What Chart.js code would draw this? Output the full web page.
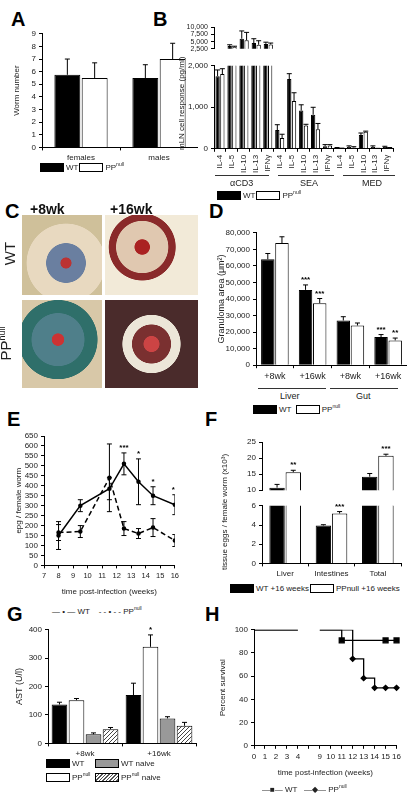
<!DOCTYPE html>
<html><head><meta charset="utf-8">
<script src="https://cdn.jsdelivr.net/npm/chart.js@4.4.0/dist/chart.umd.min.js"></script>
<style>
body{margin:0;width:414px;height:800px;background:#fff;font-family:"Liberation Sans",Arial,sans-serif;position:relative;overflow:hidden}
.p{position:absolute}
.lbl{position:absolute;font-weight:bold;font-size:20px}
.t{position:absolute;font-size:8px;color:#222;white-space:nowrap}
.box{display:inline-block;width:22px;height:7px;border:1px solid #000;vertical-align:middle;margin-right:2px}
.k{background:#000}.w{background:#fff}.g{background:#999}
.h{background:repeating-linear-gradient(135deg,#fff 0 1.5px,#555 1.5px 2.5px)}
.line{position:absolute;border-top:1px solid #333}
.rot{position:absolute;font-size:8px;color:#222;white-space:nowrap;transform-origin:left top;transform:rotate(-90deg)}
sup{font-size:5px}
</style></head><body>
<div class="lbl" style="left:11px;top:8px">A</div>
<div class="lbl" style="left:153px;top:8px">B</div>
<div class="lbl" style="left:5px;top:200px">C</div>
<div class="lbl" style="left:209px;top:200px">D</div>
<div class="lbl" style="left:7px;top:408px">E</div>
<div class="lbl" style="left:205px;top:408px">F</div>
<div class="lbl" style="left:7px;top:603px">G</div>
<div class="lbl" style="left:205px;top:603px">H</div>

<canvas id="cA" class="p" style="left:8px;top:26px"></canvas>
<div class="t" style="left:40px;top:161px"><span class="box k"></span>WT<span class="box w" style="margin-left:1px"></span>PP<sup>null</sup></div>

<canvas id="cB1" class="p" style="left:180px;top:20px"></canvas>
<canvas id="cB2" class="p" style="left:180px;top:58px"></canvas>
<div class="rot" style="left:177px;top:150px">mLN cell response (pg/ml)</div>
<div class="line" style="left:215px;top:175px;width:54px"></div>
<div class="line" style="left:278px;top:175px;width:56px"></div>
<div class="line" style="left:343px;top:175px;width:52px"></div>
<div class="t" style="left:230px;top:178px;font-size:9px">αCD3</div>
<div class="t" style="left:300px;top:178px;font-size:9px">SEA</div>
<div class="t" style="left:362px;top:178px;font-size:9px">MED</div>
<div class="t" style="left:217px;top:189px"><span class="box k"></span>WT<span class="box w" style="margin-left:1px"></span>PP<sup>null</sup></div>

<div class="p" style="left:22px;top:215px;width:80px;height:80px;background:radial-gradient(circle at 55% 60%,#b33 0 8%,#6a7fa0 9% 30%,#e8d9c0 31% 60%,#cfc09a 61%)"></div>
<div class="p" style="left:105px;top:215px;width:93px;height:80px;background:radial-gradient(circle at 40% 40%,#a22 0 10%,#e0c8b0 11% 35%,#8a2a2a 36% 45%,#f2ead8 46%)"></div>
<div class="p" style="left:22px;top:300px;width:80px;height:88px;background:radial-gradient(circle at 45% 45%,#c33 0 9%,#4f7f8a 10% 40%,#2f6f6a 41% 60%,#d8c8a8 61%)"></div>
<div class="p" style="left:105px;top:300px;width:93px;height:88px;background:radial-gradient(circle at 50% 50%,#c44 0 12%,#7a3030 13% 30%,#ece6d8 31% 45%,#4a2b2b 46%)"></div>
<div class="t" style="left:30px;top:201px;font-size:14px;font-weight:bold;color:#111">+8wk</div>
<div class="t" style="left:110px;top:201px;font-size:14px;font-weight:bold;color:#111">+16wk</div>
<div class="t" style="left:-2px;top:245px;font-size:15px;transform:rotate(-90deg)">WT</div>
<div class="t" style="left:-12px;top:335px;font-size:15px;transform:rotate(-90deg)">PP<sup style="font-size:9px">null</sup></div>

<canvas id="cD" class="p" style="left:212px;top:225px"></canvas>
<div class="line" style="left:258px;top:388px;width:68px"></div>
<div class="line" style="left:330px;top:388px;width:68px"></div>
<div class="t" style="left:280px;top:391px;font-size:9px">Liver</div>
<div class="t" style="left:356px;top:391px;font-size:9px">Gut</div>
<div class="t" style="left:253px;top:403px"><span class="box k"></span>WT &nbsp;<span class="box w"></span>PP<sup>null</sup></div>

<canvas id="cE" class="p" style="left:10px;top:426px"></canvas>
<div class="t" style="left:52px;top:605px">— • — WT &nbsp;&nbsp; - - • - - PP<sup>null</sup></div>

<canvas id="cF1" class="p" style="left:222px;top:434px"></canvas>
<canvas id="cF2" class="p" style="left:222px;top:498px"></canvas>
<div class="rot" style="left:220px;top:570px">tissue eggs / female worm (x10³)</div>
<div class="t" style="left:230px;top:584px"><span class="box k"></span>WT +16 weeks<span class="box w" style="margin-left:1px"></span>PPnull +16 weeks</div>

<canvas id="cG" class="p" style="left:10px;top:622px"></canvas>
<div class="t" style="left:46px;top:759px;line-height:10px"><span class="box k"></span>WT<br><span class="box w"></span>PP<sup>null</sup></div>
<div class="t" style="left:95px;top:759px;line-height:10px"><span class="box g"></span>WT naive<br><span class="box h"></span>PP<sup>null</sup> naive</div>

<canvas id="cH" class="p" style="left:214px;top:622px"></canvas>
<div class="t" style="left:262px;top:783px">—■— WT &nbsp; —◆— PP<sup>null</sup></div>

<script>
// ---- data ----
const aCats = ['females', 'males'];
const aWT = [5.75, 5.5], aWTerr = [1.25, 1.05];
const aPP = [5.5, 7.0], aPPerr = [1.2, 1.25];

const bCats = ['IL-4','IL-5','IL-10','IL-13','IFNγ','IL-4','IL-5','IL-10','IL-13','IFNγ','IL-4','IL-5','IL-10','IL-13','IFNγ'];
const bWT = [1750, 3500, 6000, 4500, 4200, 450, 1680, 920, 820, 60, 20, 40, 330, 40, 40];
const bWTerr = [150, 400, 2700, 1500, 600, 130, 130, 140, 180, 40, 10, 30, 50, 30, 20];
const bPP = [1800, 3200, 5500, 3900, 4000, 260, 1150, 560, 470, 80, 10, 30, 410, 5, 20];
const bPPerr = [130, 200, 2700, 1400, 500, 90, 200, 30, 140, 20, 5, 20, 15, 5, 10];

const dCats = ['+8wk', '+16wk', '+8wk', '+16wk'];
const dWT = [64000, 45500, 27000, 17000], dWTerr = [3500, 3000, 2300, 1500];
const dPP = [73800, 37500, 24000, 15000], dPPerr = [3800, 2800, 1500, 1400];
const dWTstars = ['', '***', '', '***'], dPPstars = ['', '***', '', '**'];

const eWeeks = [8, 9.5, 11.5, 12.5, 13.5, 14.5, 16];
const eWT = [150, 300, 385, 510, 420, 350, 305], eWTerr = [70, 30, 55, 55, 115, 45, 50];
const ePP = [165, 170, 440, 185, 160, 190, 125], ePPerr = [40, 30, 170, 35, 25, 45, 30];
const eStars = ['', '', '', '***', '*', '*', '**'];

const fCats = ['Liver', 'Intestines', 'Total'];
const fWT = [10.8, 3.95, 14.2], fWTerr = [1.0, 0.08, 1.0];
const fPP = [15.6, 5.2, 20.7], fPPerr = [0.6, 0.2, 0.5];
const fPPstars = ['**', '***', '***'];

const gCats = ['+8wk', '+16wk'];
const gWT = [137, 170], gWTerr = [8, 42];
const gPP = [152, 340], gPPerr = [6, 42];
const gWTn = [32, 88], gWTnErr = [5, 6];
const gPPn = [50, 62], gPPnErr = [6, 12];
const gPPstars = ['', '*'];

const hWeeks = ['0','1','2','3','4','','9','10','11','12','13','14','15','16'];
const hWT = [100,100,100,100,100,null,100,100,90.9,90.9,90.9,90.9,90.9,90.9];
const hPP = [100,100,100,100,100,null,100,100,100,75,58.3,50,50,50];
const hWTmark = [0,0,0,0,0,0,0,0,1,0,0,0,1,1];
const hPPmark = [0,0,0,0,0,0,0,0,0,1,1,1,1,1];

// ---- helpers ----
Chart.defaults.font.family = '"Liberation Sans", Arial, sans-serif';
Chart.defaults.font.size = 8;
Chart.defaults.color = '#222';
Chart.defaults.animation = false;

const errPlugin = {
  id: 'errbars',
  afterDatasetsDraw(chart) {
    const ctx = chart.ctx, ys = chart.scales.y;
    ctx.save();
    ctx.beginPath();
    ctx.rect(chart.chartArea.left, chart.chartArea.top - 20, chart.chartArea.width, chart.chartArea.height + 20);
    ctx.clip();
    chart.data.datasets.forEach((ds, i) => {
      if (!ds.err) return;
      const meta = chart.getDatasetMeta(i);
      meta.data.forEach((el, j) => {
        const raw = ds.data[j];
        const v = raw && typeof raw === 'object' ? raw.y : raw;
        if (v == null || !ds.err[j]) return;
        const e = ds.err[j], x = el.x;
        const top = ys.getPixelForValue(v + e);
        const bot = ds.both ? ys.getPixelForValue(v - e) : ys.getPixelForValue(v);
        const cap = 2.5;
        ctx.strokeStyle = '#000';
        ctx.lineWidth = 1;
        ctx.beginPath();
        ctx.moveTo(x, bot); ctx.lineTo(x, top);
        ctx.moveTo(x - cap, top); ctx.lineTo(x + cap, top);
        if (ds.both) { ctx.moveTo(x - cap, bot); ctx.lineTo(x + cap, bot); }
        ctx.stroke();
        if (ds.stars && ds.stars[j]) {
          ctx.fillStyle = '#000';
          ctx.font = 'bold 8px "Liberation Sans", Arial';
          ctx.textAlign = 'center';
          ctx.fillText(ds.stars[j], x, Math.max(top - 3, chart.chartArea.top - 2));
        }
      });
    });
    ctx.restore();
  }
};

function axis(extra) {
  return Object.assign({
    grid: { drawOnChartArea: false, color: '#000', tickLength: 3 },
    border: { color: '#000', width: 1 },
    ticks: { color: '#222', font: { size: 8 } }
  }, extra);
}

function barSet(label, data, err, fill, stars) {
  return { label, data, err, stars, backgroundColor: fill, borderColor: '#000', borderWidth: 1 };
}

function make(id, w, h, cfg) {
  const c = document.getElementById(id);
  c.width = w; c.height = h;
  cfg.options = Object.assign({ responsive: false, plugins: { legend: { display: false }, tooltip: { enabled: false } } }, cfg.options);
  cfg.plugins = [errPlugin];
  return new Chart(c, cfg);
}

const yw = w => s => { s.width = w; };

// A
make('cA', 190, 140, {
  type: 'bar',
  data: { labels: aCats, datasets: [barSet('WT', aWT, aWTerr, '#000'), barSet('PP', aPP, aPPerr, '#fff')] },
  options: {
    categoryPercentage: 0.7, barPercentage: 0.95,
    scales: {
      x: axis({}),
      y: axis({ min: 0, max: 9, ticks: { stepSize: 1 }, title: { display: true, text: 'Worm number', font: { size: 8 } }, afterFit: yw(34) })
    }
  }
});

// B
const bTopWT = bWT.map(v => v > 2500 ? v : null), bTopPP = bPP.map(v => v > 2500 ? v : null);
const bOpts = (top) => ({
  categoryPercentage: 0.8, barPercentage: 0.9,
  layout: { padding: { right: 5, top: top ? 5 : 0 } },
  scales: {
    x: top ? axis({ display: false }) : axis({ ticks: { maxRotation: 90, minRotation: 90, autoSkip: false, font: { size: 8 } } }),
    y: top
      ? axis({ min: 2500, max: 10000, ticks: { font: { size: 7 }, autoSkip: false }, afterBuildTicks: s => { s.ticks = [2500, 5000, 7500, 10000].map(value => ({ value })); }, afterFit: yw(34) })
      : axis({ min: 0, max: 2000, afterBuildTicks: s => { s.ticks = [0, 1000, 2000].map(value => ({ value })); }, afterFit: yw(34) })
  }
});
make('cB1', 220, 36, { type: 'bar', data: { labels: bCats, datasets: [barSet('WT', bTopWT, bWTerr, '#000'), barSet('PP', bTopPP, bPPerr, '#fff')] }, options: bOpts(true) });
make('cB2', 220, 118, { type: 'bar', data: { labels: bCats, datasets: [barSet('WT', bWT, bWTerr, '#000'), barSet('PP', bPP, bPPerr, '#fff')] }, options: bOpts(false) });

// D
make('cD', 195, 160, {
  type: 'bar',
  data: { labels: dCats, datasets: [barSet('WT', dWT, dWTerr, '#000', dWTstars), barSet('PP', dPP, dPPerr, '#fff', dPPstars)] },
  options: {
    categoryPercentage: 0.75, barPercentage: 0.95,
    scales: {
      x: axis({ ticks: { font: { size: 9 } } }),
      y: axis({ min: 0, max: 80000, ticks: { stepSize: 10000 }, afterFit: yw(44),
        title: { display: true, text: 'Granuloma area (μm²)', font: { size: 9 } } })
    }
  }
});

// E
const ptsWT = eWeeks.map((x, i) => ({ x, y: eWT[i] }));
const ptsPP = eWeeks.map((x, i) => ({ x, y: ePP[i] }));
make('cE', 172, 175, {
  type: 'line',
  data: { datasets: [
    { label: 'WT', data: ptsWT, err: eWTerr, both: true, stars: eStars, borderColor: '#000', borderWidth: 1.5, pointRadius: 1.5, pointBackgroundColor: '#000', tension: 0 },
    { label: 'PP', data: ptsPP, err: ePPerr, both: true, borderColor: '#000', borderWidth: 1.5, borderDash: [5, 3], pointRadius: 1.5, pointBackgroundColor: '#000', tension: 0 }
  ] },
  options: {
    layout: { padding: { top: 10, right: 6 } },
    scales: {
      x: axis({ type: 'linear', min: 7, max: 16, ticks: { stepSize: 1, autoSkip: false, maxRotation: 0, font: { size: 7.5 } }, title: { display: true, text: 'time post-infection (weeks)', font: { size: 8 } } }),
      y: axis({ min: 0, max: 650, ticks: { stepSize: 50, autoSkip: false }, afterFit: yw(34), title: { display: true, text: 'epg / female worm', font: { size: 8 } } })
    }
  }
});

// F
const fTopWT = fWT.map(v => v > 10 ? v : null), fTopPP = fPP.map(v => v > 10 ? v : null);
const fOpts = (top) => ({
  categoryPercentage: 0.7, barPercentage: 0.95,
  layout: { padding: { right: 6, top: top ? 8 : 0 } },
  scales: {
    x: top ? axis({ display: false }) : axis({ ticks: { font: { size: 8 } } }),
    y: top ? axis({ min: 10, max: 25, ticks: { stepSize: 5 }, afterFit: yw(40) })
           : axis({ min: 0, max: 6, ticks: { stepSize: 1 }, afterFit: yw(40) })
  }
});
make('cF1', 185, 64, { type: 'bar', data: { labels: fCats, datasets: [barSet('WT', fTopWT, fWTerr, '#000'), barSet('PP', fTopPP, fPPerr, '#fff', fPPstars)] }, options: fOpts(true) });
make('cF2', 185, 84, { type: 'bar', data: { labels: fCats, datasets: [
  barSet('WT', fWT.map(v => Math.min(v, 6.4)), fWTerr.map((e, i) => fWT[i] > 6 ? 0 : e), '#000'),
  barSet('PP', fPP.map(v => Math.min(v, 6.4)), fPPerr.map((e, i) => fPP[i] > 6 ? 0 : e), '#fff', fPPstars.map((s, i) => fPP[i] > 6 ? '' : s))
] }, options: fOpts(false) });

// G
const hatch = (() => {
  const c = document.createElement('canvas'); c.width = 4; c.height = 4;
  const x = c.getContext('2d'); x.fillStyle = '#fff'; x.fillRect(0, 0, 4, 4);
  x.strokeStyle = '#444'; x.lineWidth = 1; x.beginPath(); x.moveTo(0, 4); x.lineTo(4, 0); x.stroke();
  return x.createPattern(c, 'repeat');
})();
make('cG', 190, 140, {
  type: 'bar',
  data: { labels: gCats, datasets: [
    barSet('WT', gWT, gWTerr, '#000'),
    barSet('PP', gPP, gPPerr, '#fff', gPPstars),
    barSet('WT naive', gWTn, gWTnErr, '#999'),
    barSet('PP naive', gPPn, gPPnErr, hatch)
  ] },
  options: {
    categoryPercentage: 0.92, barPercentage: 0.92,
    layout: { padding: { top: 6, right: 4 } },
    scales: {
      x: axis({}),
      y: axis({ min: 0, max: 400, ticks: { stepSize: 100 }, afterFit: yw(38), title: { display: true, text: 'AST (U/l)', font: { size: 9 } } })
    }
  }
});

// H
make('cH', 190, 160, {
  type: 'line',
  data: { labels: hWeeks, datasets: [
    { label: 'WT', data: hWT, stepped: true, borderColor: '#000', borderWidth: 1.3, spanGaps: false, pointStyle: 'rect',
      pointRadius: hWTmark.map(m => m ? 3.5 : 0), pointBackgroundColor: '#000' },
    { label: 'PP', data: hPP, stepped: true, borderColor: '#000', borderWidth: 1.3, spanGaps: false, pointStyle: 'rectRot',
      pointRadius: hPPmark.map(m => m ? 2.5 : 0), pointBackgroundColor: '#000' }
  ] },
  options: {
    layout: { padding: { top: 6, right: 6 } },
    scales: {
      x: axis({ offset: false, ticks: { autoSkip: false, maxRotation: 0 }, title: { display: true, text: 'time post-infection (weeks)', font: { size: 8 } } }),
      y: axis({ min: 0, max: 100, ticks: { stepSize: 10 }, afterFit: yw(40), title: { display: true, text: 'Percent survival', font: { size: 8 } } })
    }
  }
});
</script>
</body></html>
